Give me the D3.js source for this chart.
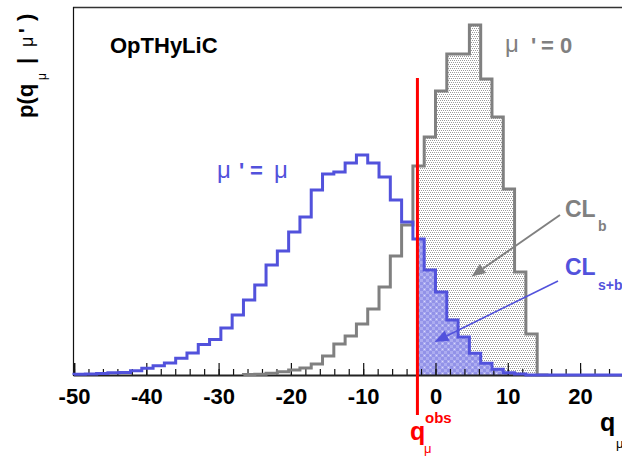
<!DOCTYPE html>
<html><head><meta charset="utf-8">
<script src="https://cdn.jsdelivr.net/npm/d3@7"></script>
<style>
body{margin:0;background:#fff}
svg{display:block}
text{font-family:"Liberation Sans",Arial,Helvetica,sans-serif}
</style>
</head><body>
<svg id="c" width="622" height="460"></svg>
<script>
// ---------- data ----------
const binStart = -50;          // left edge of first bin
const binWidth = 1.5625;       // bin width in q units
const xMajorTicks = [-50, -40, -30, -20, -10, 0, 10, 20, 30];
const xMinorTicks = d3.range(-50, 31, 2);
const xTickLabels = ["-50", "-40", "-30", "-20", "-10", "0", "10", "20", ""];
// mu' = mu (signal+background) histogram, bins from -50
const blueCounts = [0.8, 1, 1.5, 2.3, 2.5, 4.3, 6.7, 9.3, 12, 16.7,
  22, 30.5, 35.5, 47, 60, 75, 90, 110, 124, 143,
  158, 185, 201, 203, 212, 220, 212, 198, 175, 153,
  136, 105, 83, 55, 38, 21.7, 11.7, 5.7, 2.3, 1,
  0, 0, 0, 0, 0, 0, 0, 0, 0, 0, 0, 0];
// mu' = 0 (background only) histogram, first bin index 15
const greyFirstBin = 15;
const greyCounts = [0.5, 0.8, 1.7, 3.3, 5, 7, 11, 19, 31, 39,
  51, 66, 88, 119, 150, 209, 238, 284, 321, 321,
  350, 296, 258, 186, 103, 41, 0];
const qObs = -2.5;
const qObsLineTop = 297;

// ---------- layout ----------
const W = 622, H = 460;
const svg = d3.select("#c");
const x = d3.scaleLinear().domain([-50, 30]).range([74, 652.4]);
const y = d3.scaleLinear().domain([0, d3.max(greyCounts) * 1.05]).range([375, 7.5]);
const blue = "#5252dc", grey = "#808080", red = "#ff0000";

const defs = svg.append("defs");
const pg = defs.append("pattern").attr("id", "dots").attr("patternUnits", "userSpaceOnUse")
  .attr("width", 4).attr("height", 4);
pg.append("rect").attr("width", 4).attr("height", 4).attr("fill", "#fff");
[[0,0],[2,0],[1,2],[3,2]].forEach(p => pg.append("rect").attr("x", p[0]).attr("y", p[1])
  .attr("width", 1).attr("height", 1).attr("fill", "#9a9a9a"));
const pb = defs.append("pattern").attr("id", "bluefill").attr("patternUnits", "userSpaceOnUse")
  .attr("width", 6).attr("height", 6);
pb.append("rect").attr("width", 6).attr("height", 6).attr("fill", "#acacf0");
pb.append("rect").attr("width", 3).attr("height", 3).attr("fill", "#9292e8");
pb.append("rect").attr("x", 3).attr("y", 3).attr("width", 3).attr("height", 3).attr("fill", "#9292e8");
pb.append("rect").attr("x", 4).attr("y", 1).attr("width", 1).attr("height", 1).attr("fill", "#dcdcfa");
defs.append("clipPath").attr("id", "rightOfObs").append("rect")
  .attr("x", x(qObs)).attr("y", 0).attr("width", W).attr("height", y(0));

function stepPoints(firstBin, counts) {
  const pts = [[binStart + firstBin * binWidth, 0]];
  counts.forEach((c, i) => {
    const e0 = binStart + (firstBin + i) * binWidth;
    pts.push([e0, c], [e0 + binWidth, c]);
  });
  pts.push([binStart + (firstBin + counts.length) * binWidth, 0]);
  return pts;
}
const line = d3.line().x(d => x(d[0])).y(d => y(d[1]));
const greyPts = stepPoints(greyFirstBin, greyCounts);
const bluePts = stepPoints(0, blueCounts);

// fills (right of q_obs)
svg.append("path").attr("d", line(greyPts) + "Z").attr("fill", "url(#dots)")
  .attr("clip-path", "url(#rightOfObs)");
svg.append("path").attr("d", line(bluePts) + "Z").attr("fill", "url(#bluefill)")
  .attr("clip-path", "url(#rightOfObs)");

// frame
svg.append("line").attr("x1", 73).attr("x2", W).attr("y1", 7.5).attr("y2", 7.5)
  .attr("stroke", "#333").attr("stroke-width", 1.6);
svg.append("line").attr("x1", 73.5).attr("x2", 73.5).attr("y1", 7).attr("y2", 376)
  .attr("stroke", "#111").attr("stroke-width", 1.2);

// x axis
const gMinor = svg.append("g").attr("transform", `translate(0,${y(0)})`)
  .call(d3.axisBottom(x).tickValues(xMinorTicks).tickSize(-6).tickFormat(""));
gMinor.select(".domain").remove();
gMinor.selectAll("line").attr("stroke", "#111").attr("stroke-width", 1.2);
const gMajor = svg.append("g").attr("transform", `translate(0,${y(0)})`)
  .call(d3.axisBottom(x).tickValues(xMajorTicks).tickSize(-12).tickPadding(13)
    .tickFormat((d, i) => xTickLabels[i]));
gMajor.select(".domain").attr("stroke", "#222").attr("stroke-width", 1.8);
gMajor.selectAll("line").attr("stroke", "#111").attr("stroke-width", 1.2);
gMajor.selectAll("text").attr("font-size", 22).attr("font-weight", "bold")
  .attr("fill", "#000").attr("font-family", '"Liberation Sans",Arial,sans-serif');

// histogram outlines
svg.append("path").attr("d", line(greyPts)).attr("fill", "none").attr("stroke", grey)
  .attr("stroke-width", 3).attr("stroke-linejoin", "miter");
svg.append("path").attr("d", line(bluePts)).attr("fill", "none").attr("stroke", blue)
  .attr("stroke-width", 3).attr("stroke-linejoin", "miter");

// q_obs line
svg.append("line").attr("x1", x(qObs)).attr("x2", x(qObs))
  .attr("y1", y(qObsLineTop)).attr("y2", y(0) + 40)
  .attr("stroke", red).attr("stroke-width", 3);

// arrows
function arrow(x1, y1, x2, y2, color, w) {
  const ang = Math.atan2(y2 - y1, x2 - x1), L = 14, hw = 5.5;
  const bx = x2 - L * Math.cos(ang), by = y2 - L * Math.sin(ang);
  svg.append("line").attr("x1", x1).attr("y1", y1).attr("x2", bx).attr("y2", by)
    .attr("stroke", color).attr("stroke-width", w);
  const px = -Math.sin(ang) * hw, py = Math.cos(ang) * hw;
  svg.append("path").attr("d", `M${x2},${y2}L${bx + px},${by + py}L${bx - px},${by - py}Z`)
    .attr("fill", color);
}
arrow(560, 215, 471.5, 276.5, grey, 2);
arrow(558, 281, 434.5, 342, blue, 1.6);

// texts
function txt(s, tx, ty, size, weight, color, anchor) {
  return svg.append("text").attr("x", tx).attr("y", ty).attr("font-size", size)
    .attr("font-weight", weight || "normal").attr("fill", color || "#000")
    .attr("text-anchor", anchor || "start").text(s);
}
function rtxt(s, tx, ty, size, weight) {
  return svg.append("text").attr("transform", `translate(${tx},${ty}) rotate(-90)`)
    .attr("font-size", size).attr("font-weight", weight || "normal").attr("fill", "#000").text(s);
}
txt("OpTHyLiC", 110, 53, 22, "bold");

// y title  p(q_mu | mu')
rtxt("p(q", 33, 118, 22, "bold");
rtxt("\u03bc", 46, 80, 12);
rtxt("|", 33, 64, 22, "bold");
rtxt("\u03bc", 33, 47, 18);
rtxt("'", 33, 33, 20, "bold");
rtxt(")", 33, 21, 22, "bold");

// mu' = mu
txt("\u03bc", 217, 178, 24, "normal", blue);
txt("'", 239, 178, 22, "bold", blue);
txt("=", 250, 178, 22, "bold", blue);
txt("\u03bc", 274, 178, 24, "normal", blue);
// mu' = 0
txt("\u03bc", 505, 52, 24, "normal", grey);
txt("'", 531, 53, 22, "bold", grey);
txt("=", 541, 53, 22, "bold", grey);
txt("0", 560, 53, 22, "bold", grey);

// CL labels
txt("CL", 565, 217, 23, "bold", grey);
txt("b", 598, 231, 14, "bold", grey);
txt("CL", 565, 275, 23, "bold", blue);
txt("s+b", 598, 290, 14, "bold", blue);

// q_obs label
txt("q", 410, 440, 25, "bold", red);
txt("obs", 425, 423, 15, "bold", red);
txt("\u03bc", 424, 453, 13, "normal", red);

// x title
txt("q", 600, 431, 25, "bold", "#000");
txt("\u03bc", 616, 448, 13, "normal", "#000");
</script>
</body></html>
